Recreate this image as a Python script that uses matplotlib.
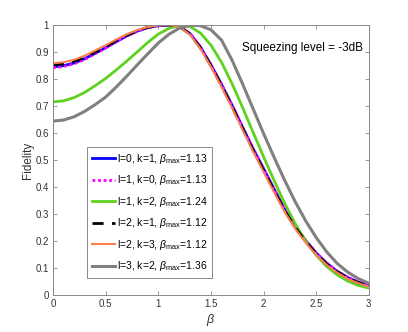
import numpy as np
import matplotlib
matplotlib.use("Agg")
import matplotlib.pyplot as plt

plt.rcParams['font.family'] = ['Liberation Sans', 'DejaVu Sans']
plt.rcParams['mathtext.fontset'] = 'custom'
plt.rcParams['mathtext.rm'] = 'Liberation Sans'
plt.rcParams['mathtext.it'] = 'Liberation Sans:italic'

# beta grid and fidelity curves
beta = np.round(np.arange(0, 3.01, 0.1), 2)

f_l0k1 = [0.845, 0.849, 0.859, 0.875, 0.895, 0.916, 0.938, 0.959, 0.977, 0.990, 0.997,
          1.000, 0.994, 0.968, 0.918, 0.852, 0.780, 0.703, 0.622, 0.542, 0.468,
          0.392, 0.318, 0.255, 0.202, 0.156, 0.118, 0.088, 0.065, 0.048, 0.036]
f_l1k0 = [0.842, 0.846, 0.856, 0.872, 0.893, 0.914, 0.937, 0.958, 0.976, 0.990, 0.997,
          1.000, 0.994, 0.969, 0.919, 0.853, 0.781, 0.704, 0.623, 0.543, 0.469,
          0.393, 0.319, 0.256, 0.203, 0.157, 0.119, 0.089, 0.066, 0.049, 0.037]
f_l1k2 = [0.715, 0.719, 0.731, 0.750, 0.775, 0.802, 0.833, 0.866, 0.900, 0.935, 0.966,
          0.987, 0.998, 0.994, 0.970, 0.925, 0.862, 0.783, 0.695, 0.603, 0.512,
          0.424, 0.340, 0.265, 0.200, 0.148, 0.106, 0.075, 0.052, 0.036, 0.026]
f_l2k1 = [0.852, 0.856, 0.865, 0.880, 0.900, 0.920, 0.942, 0.962, 0.979, 0.991, 0.998,
          1.000, 0.994, 0.966, 0.915, 0.849, 0.776, 0.698, 0.617, 0.537, 0.462,
          0.387, 0.313, 0.251, 0.198, 0.153, 0.115, 0.086, 0.063, 0.046, 0.034]
f_l2k3 = [0.858, 0.862, 0.871, 0.886, 0.905, 0.925, 0.946, 0.965, 0.981, 0.992, 0.998,
          1.000, 0.993, 0.964, 0.912, 0.845, 0.771, 0.693, 0.612, 0.532, 0.456,
          0.381, 0.308, 0.246, 0.194, 0.149, 0.112, 0.083, 0.060, 0.044, 0.031]
f_l3k2 = [0.644, 0.648, 0.660, 0.680, 0.705, 0.733, 0.770, 0.810, 0.852, 0.893, 0.933,
          0.965, 0.988, 0.999, 0.997, 0.982, 0.944, 0.870, 0.782, 0.690, 0.598,
          0.510, 0.425, 0.346, 0.275, 0.213, 0.160, 0.117, 0.085, 0.061, 0.044]

labels = [r'l=0, k=1, $\beta_{\mathrm{max}}$=1.13',
          r'l=1, k=0, $\beta_{\mathrm{max}}$=1.13',
          r'l=1, k=2, $\beta_{\mathrm{max}}$=1.24',
          r'l=2, k=1, $\beta_{\mathrm{max}}$=1.12',
          r'l=2, k=3, $\beta_{\mathrm{max}}$=1.12',
          r'l=3, k=2, $\beta_{\mathrm{max}}$=1.36']

fig = plt.figure(figsize=(4.08, 3.32), dpi=100)
ax = fig.add_axes([0.130, 0.111, 0.774, 0.814])

ax.plot(beta, f_l0k1, color='#0000ff', lw=2, label=labels[0])
ax.plot(beta, f_l1k0, color='#ff00ff', lw=2, ls=(0, (1, 1)), label=labels[1])
ax.plot(beta, f_l1k2, color='#5fd11f', lw=2, label=labels[2])
ax.plot(beta, f_l2k1, color='black', lw=2, ls=(0, (4, 3)), label=labels[3])
ax.plot(beta, f_l2k3, color='#ff7f50', lw=1.5, label=labels[4])
ax.plot(beta, f_l3k2, color='#808080', lw=2.2, label=labels[5])

ax.set_xlim(0, 3)
ax.set_ylim(0, 1)
ax.set_xticks(np.arange(0, 3.01, 0.5))
ax.set_xticklabels(['0', '0.5', '1', '1.5', '2', '2.5', '3'])
ax.set_yticks(np.arange(0, 1.01, 0.1))
ax.set_yticklabels(['0'] + ['%.1f' % v for v in np.arange(0.1, 0.95, 0.1)] + ['1'])
ax.tick_params(direction='in', top=True, right=True, length=3, width=0.6,
               labelsize=7, colors='#888888', labelcolor='#333333', pad=3)
for s in ax.spines.values():
    s.set_color('#888888')
    s.set_linewidth(0.7)

ax.set_xlabel(r'$\beta$', fontsize=9, color='#333333', labelpad=2)
ax.set_ylabel('Fidelity', fontsize=8.5, color='#333333', labelpad=1)

ax.text(0.981, 0.915, 'Squeezing level = -3dB', transform=ax.transAxes,
        ha='right', va='center', fontsize=8.5, color='black')

leg = ax.legend(loc='lower left', bbox_to_anchor=(0.107, 0.063), fontsize=7.5,
                handlelength=2.3, handletextpad=0.15, labelspacing=0.72,
                borderpad=0.45, borderaxespad=0, fancybox=False, framealpha=1)
leg.get_frame().set_edgecolor('#888888')
leg.get_frame().set_linewidth(0.7)

fig.savefig('out.png', dpi=100)
